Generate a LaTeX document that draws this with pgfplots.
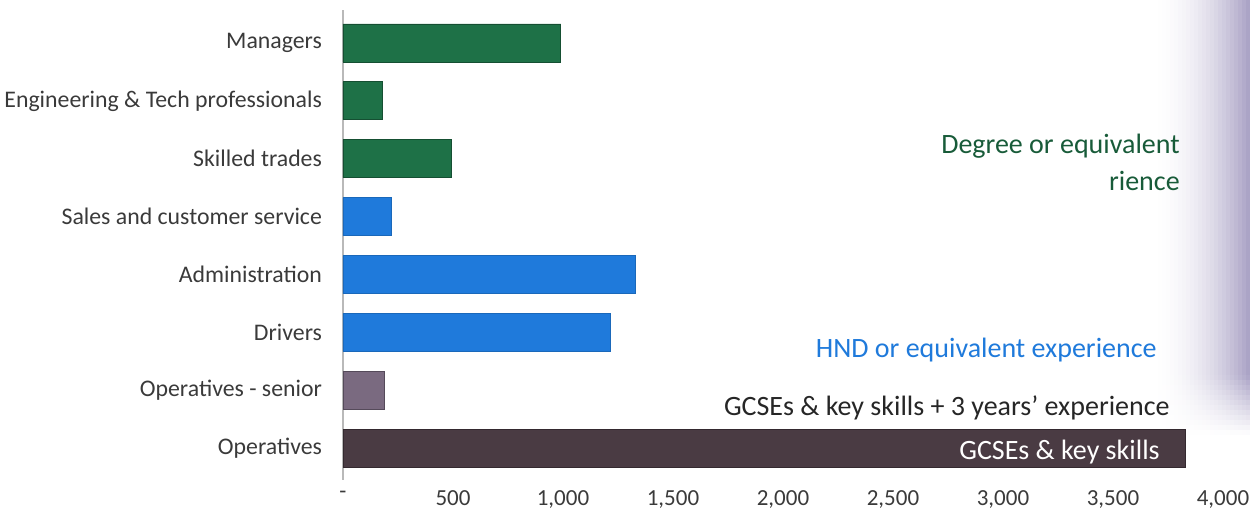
\documentclass[border=0pt]{standalone}
\usepackage{pgfplots}
\pgfplotsset{compat=1.18}
\usetikzlibrary{backgrounds}
\usepackage{fontspec}
\setmainfont{Carlito}

\definecolor{degreegreen}{HTML}{1E7147}
\definecolor{hndblue}{HTML}{1F7ADB}
\definecolor{seniorgrey}{HTML}{7A6A80}
\definecolor{opsdark}{HTML}{4A3B43}
\definecolor{labelgrey}{HTML}{3A3A3A}
\definecolor{lav}{HTML}{A8A0C4}

\begin{document}
\begin{tikzpicture}
\begin{axis}[
  scale only axis,
  width=440pt, height=235pt,
  xmin=0, xmax=4000,
  ymin=-0.55, ymax=7.57,
  xbar, bar width=19pt, bar shift=0pt,
  axis lines*=left,
  x axis line style={draw=none},
  y axis line style={draw=gray!55, line width=0.6pt},
  major tick length=0pt,
  xtick={0,500,1000,1500,2000,2500,3000,3500,4000},
  xticklabels={-,500,{1,000},{1,500},{2,000},{2,500},{3,000},{3,500},{4,000}},
  ytick={0,1,2,3,4,5,6,7},
  yticklabels={Operatives, Operatives - senior, Drivers\hspace{3pt}, Administration,
    Sales and customer service, Skilled trades, Engineering \& Tech professionals, Managers},
  tick label style={font=\fontsize{11.5}{13}\selectfont, text=labelgrey},
  yticklabel style={xshift=-7pt, font=\fontsize{11.9}{13}\selectfont},
  xticklabel style={yshift=-2pt},
  clip=false,
]
% Degree-level roles
\addplot[fill=degreegreen, draw=degreegreen!70!black, line width=0.4pt]
  coordinates {(990,7) (177,6) (495,5)};
% HND-level roles
\addplot[fill=hndblue, draw=hndblue!85!black, line width=0.4pt]
  coordinates {(218,4) (1327,3) (1214,2)};
% GCSEs plus experience
\addplot[fill=seniorgrey, draw=seniorgrey!70!black, line width=0.4pt]
  coordinates {(186,1)};
% GCSEs only
\addplot[fill=opsdark, draw=opsdark!70!black, line width=0.4pt]
  coordinates {(3827,0)};

\tikzset{band/.style={anchor=east, inner sep=0pt, font=\fontsize{14}{16}\selectfont}}
\node[band, text=degreegreen!80!black] at (axis cs:3805,5.22) {Degree or equivalent};
\node[band, text=degreegreen!80!black] at (axis cs:3805,4.61) {rience};
\node[band, text=hndblue] at (axis cs:3700,1.69) {HND or equivalent experience};
\node[band, text=black!85] at (axis cs:3759,0.69) {GCSEs \& key skills + 3 years’ experience};
\node[band, text=white] at (axis cs:3714,-0.07) {GCSEs \& key skills};

\coordinate (sw) at (axis cs:0,-0.55);
\end{axis}
% lavender cast along the right-hand edge: strips deepening to the right,
% fading out towards the bottom
\begin{pgfonlayer}{background}
  \foreach \j in {1,...,25}{
    \pgfmathsetmacro{\a}{100*((\j-0.5)/25)^2}
    \fill[lav!\a!white] (sw) ++({403.5pt+(\j-1)*2pt},240pt) rectangle ++(2.1pt,-187.6pt);
    \foreach \k in {1,...,12}{
      \pgfmathsetmacro{\b}{\a*(1-(\k-0.5)/12)}
      \fill[lav!\b!white] (sw) ++({403.5pt+(\j-1)*2pt},{52.5pt-(\k-1)*2.5pt})
        rectangle ++(2.1pt,-2.6pt);
    }
  }
\end{pgfonlayer}
\pgfresetboundingbox
\path (sw) ++(-171.5pt,-19.5pt) rectangle ++(625pt,259.5pt);
\end{tikzpicture}
\end{document}
